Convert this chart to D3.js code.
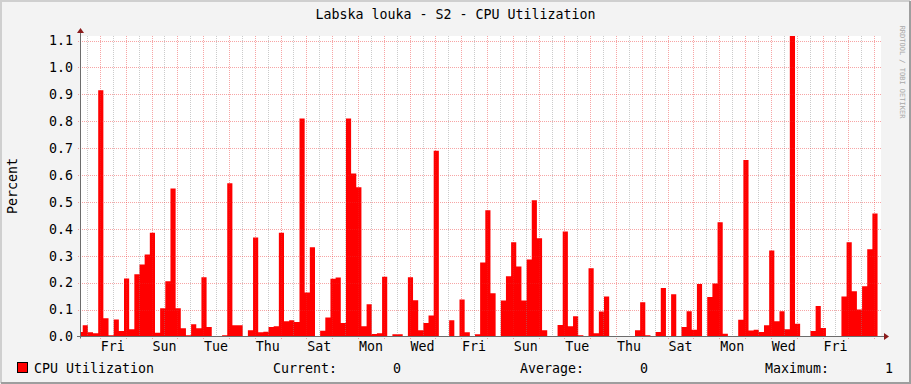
<!DOCTYPE html>
<html lang="en">
<head>
<meta charset="UTF-8">
<title>Labska louka - S2 - CPU Utilization</title>
<script src="https://d3js.org/d3.v7.min.js"></script>
<style>
  body { margin: 0; background: #f3f3f3; }
  svg { display: block; }
  text { font-family: "DejaVu Sans Mono", monospace; font-size: 13.3px; fill: #000; }
</style>
</head>
<body>
<svg id="chart" width="911" height="384"></svg>
<script>
// values (4.8h consolidated samples)
const chartTitle = "Labska louka - S2 - CPU Utilization";
const seriesName = "CPU Utilization";
const yLabel = "Percent";
const yTicks = [0.0, 0.1, 0.2, 0.3, 0.4, 0.5, 0.6, 0.7, 0.8, 0.9, 1.0, 1.1];
const dayLabels = ["Fri", "Sun", "Tue", "Thu", "Sat", "Mon", "Wed", "Fri",
                   "Sun", "Tue", "Thu", "Sat", "Mon", "Wed", "Fri"];
const windowStart = new Date(2023, 7, 31, 6, 24);
const windowEnd = new Date(2023, 9, 1, 6, 24);
const sampleStart = new Date(2023, 7, 31, 3, 12);
const sampleStepHours = 4.8;
const cpuValues = [
  0.017, 0.042, 0.016, 0.012, 0.915, 0.068, 0.005, 0.063, 0.020, 0.216,
  0.027, 0.231, 0.268, 0.305, 0.386, 0.014, 0.105, 0.205, 0.550, 0.105,
  0.031, 0.005, 0.046, 0.031, 0.220, 0.035, 0, 0, 0.005, 0.570,
  0.042, 0.042, 0, 0.023, 0.368, 0.016, 0.018, 0.035, 0.038, 0.386,
  0.057, 0.060, 0.054, 0.810, 0.164, 0.332, 0, 0.021, 0.071, 0.215,
  0.219, 0.050, 0.810, 0.606, 0.555, 0.038, 0.120, 0.009, 0.012, 0.222,
  0, 0.008, 0.008, 0, 0.220, 0.135, 0.023, 0.050, 0.078, 0.690,
  0, 0, 0.060, 0, 0.138, 0.016, 0, 0.008, 0.275, 0.469,
  0.161, 0, 0.134, 0.224, 0.350, 0.260, 0.134, 0.286, 0.506, 0.365,
  0.023, 0, 0, 0.043, 0.390, 0.038, 0.075, 0.005, 0, 0.254,
  0.012, 0.093, 0.149, 0, 0, 0, 0, 0, 0.023, 0.127,
  0.005, 0, 0.017, 0.180, 0, 0.157, 0, 0.035, 0.094, 0.025,
  0.195, 0, 0.147, 0.197, 0.425, 0.010, 0, 0, 0.062, 0.656,
  0.022, 0.025, 0.017, 0.042, 0.320, 0.057, 0.094, 0.027, 1.117, 0.047,
  0, 0, 0.020, 0.113, 0.032, 0, 0, 0, 0.149, 0.350,
  0.168, 0.100, 0.187, 0.324, 0.457
];

const plot = { left: 81, right: 881, top: 36, bottom: 336.5 };
const svg = d3.select("#chart");

// frame
svg.append("rect").attr("width", 911).attr("height", 384).attr("fill", "#f3f3f3");
svg.append("path").attr("d", "M1,383V1H910").attr("fill", "none")
  .attr("stroke", "#cfcfcf").attr("stroke-width", 2);
svg.append("path").attr("d", "M1,383H910V1").attr("fill", "none")
  .attr("stroke", "#9e9e9e").attr("stroke-width", 2);
svg.append("rect")
  .attr("x", plot.left).attr("y", plot.top)
  .attr("width", plot.right - plot.left).attr("height", plot.bottom - plot.top)
  .attr("fill", "#fff");

const x = d3.scaleTime().domain([windowStart, windowEnd]).range([plot.left, plot.right]);
const y = d3.scaleLinear().domain([0, d3.max(cpuValues)]).range([plot.bottom, plot.top]);

const stepMs = sampleStepHours * 3600e3;
const points = cpuValues.map((v, i) => ({ t: new Date(+sampleStart + i * stepMs), v }));
points.push({ t: new Date(+sampleStart + cpuValues.length * stepMs), v: cpuValues[cpuValues.length - 1] });

svg.append("clipPath").attr("id", "clip").append("rect")
  .attr("x", plot.left).attr("y", plot.top)
  .attr("width", plot.right - plot.left).attr("height", plot.bottom - plot.top);

const area = d3.area()
  .curve(d3.curveStepAfter)
  .x(d => x(d.t))
  .y0(y(0))
  .y1(d => y(d.v));

svg.append("path")
  .datum(points)
  .attr("clip-path", "url(#clip)")
  .attr("fill", "#ff0000")
  .attr("d", area);

// grid, drawn over the area like rrdtool does
const grid = svg.append("g").attr("stroke-dasharray", "1,1").attr("fill", "none");
const minorTimes = d3.timeHour.every(12).range(windowStart, windowEnd).filter(d => d.getHours() === 12);
const majorTimes = d3.timeDay.range(windowStart, windowEnd);

grid.selectAll(".minor").data(minorTimes).enter().append("line")
  .attr("x1", d => Math.round(x(d)) + 0.5).attr("x2", d => Math.round(x(d)) + 0.5)
  .attr("y1", plot.top).attr("y2", plot.bottom)
  .attr("stroke", "rgba(140,140,140,0.45)");

grid.selectAll(".major").data(majorTimes).enter().append("line")
  .attr("x1", d => Math.round(x(d)) + 0.5).attr("x2", d => Math.round(x(d)) + 0.5)
  .attr("y1", plot.top).attr("y2", plot.bottom + 3)
  .attr("stroke", "rgba(235,40,40,0.42)");

grid.selectAll(".hgrid").data(yTicks.filter(t => t > 0)).enter().append("line")
  .attr("x1", plot.left - 3).attr("x2", plot.right)
  .attr("y1", d => Math.round(y(d)) + 0.5).attr("y2", d => Math.round(y(d)) + 0.5)
  .attr("stroke", "rgba(235,40,40,0.42)");

// axes
svg.append("line").attr("x1", 80.5).attr("x2", 80.5).attr("y1", plot.bottom + 2).attr("y2", 32)
  .attr("stroke", "#6c6c6c");
svg.append("line").attr("x1", 77).attr("x2", 885).attr("y1", plot.bottom).attr("y2", plot.bottom)
  .attr("stroke", "#6c6c6c");
svg.append("path").attr("d", "M77,33L80.5,28L84,33Z").attr("fill", "#8b1c1c");
svg.append("path").attr("d", "M884,333L889,336.5L884,340Z").attr("fill", "#8b1c1c");

// y labels
const fmt = d3.format(".1f");
svg.selectAll(".ylab").data(yTicks).enter().append("text")
  .attr("x", 73).attr("y", d => y(d)).attr("dy", "0.36em")
  .attr("text-anchor", "end")
  .text(d => fmt(d));

// x labels at noon every second day
const labelTimes = d3.timeDay.range(new Date(2023, 8, 1), windowEnd, 2);
svg.selectAll(".xlab").data(labelTimes).enter().append("text")
  .attr("x", d => x(d3.timeHour.offset(d, 12)))
  .attr("y", 351)
  .attr("text-anchor", "middle")
  .text((d, i) => dayLabels[i]);

svg.append("text").attr("x", 455.5).attr("y", 19).attr("text-anchor", "middle").text(chartTitle);

svg.append("text")
  .attr("transform", "translate(16.5,186) rotate(-90)")
  .attr("text-anchor", "middle")
  .text(yLabel);

svg.append("text")
  .attr("transform", "translate(900,72) rotate(90)")
  .attr("text-anchor", "middle")
  .style("font-size", "7px")
  .style("fill", "#a8a8a8")
  .text("RRDTOOL / TOBI OETIKER");

// legend
svg.append("rect").attr("x", 17.5).attr("y", 362.5).attr("width", 10).attr("height", 10)
  .attr("fill", "#ff0000").attr("stroke", "#000");
svg.append("text").attr("x", 34).attr("y", 373).text(seriesName);

const stats = [
  { label: "Current:", value: cpuValues[cpuValues.length - 1], x: 273 },
  { label: "Average:", value: d3.mean(cpuValues), x: 520 },
  { label: "Maximum:", value: d3.max(cpuValues), x: 765 }
];
stats.forEach(s => {
  svg.append("text").attr("x", s.x).attr("y", 373).text(s.label);
  svg.append("text").attr("x", s.x + 128).attr("y", 373).attr("text-anchor", "end")
    .text(s.value.toFixed(0));
});
</script>
</body>
</html>
